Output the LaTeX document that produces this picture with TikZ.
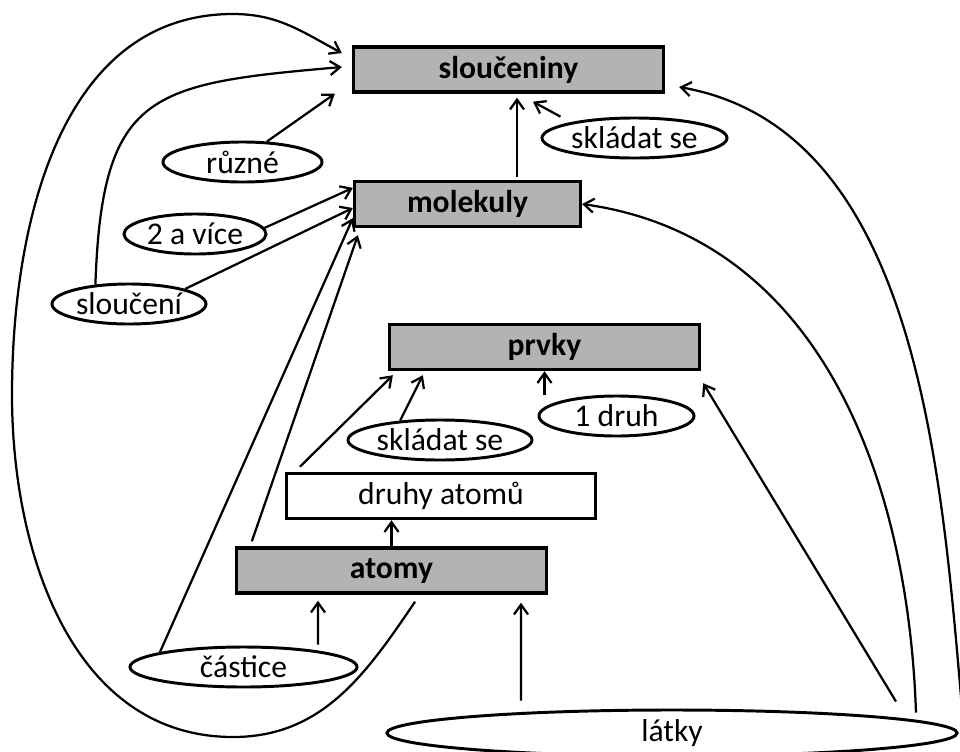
\documentclass[tikz,border=0pt]{standalone}
\usepackage{fontspec}
\setmainfont{Carlito}
\usetikzlibrary{shapes.geometric,arrows.meta,calc}
\definecolor{boxc}{HTML}{B3B3B3}
\newcommand{\velke}{\fontsize{22.5}{27}\selectfont}
\tikzset{
  pojem/.style={draw,line width=2.3pt,fill=boxc,minimum height=1.13cm,inner sep=0pt,font=\velke\bfseries},
  vazba/.style={draw,line width=2.1pt,ellipse,fill=white,minimum height=1cm,inner sep=0pt,font=\velke},
}

\begin{document}
\begin{tikzpicture}[x=0.025cm,y=0.025cm,>={Straight Barb[length=7pt,width=10pt]},line width=1.6pt]
  \useasboundingbox (0,0) rectangle (960,-751);
  \foreach \n/\x/\y/\w/\t in {slouceniny/508.5/-69.5/7.75/sloučeniny, molekuly/467.5/-204/5.65/molekuly, prvky/544.5/-347/7.75/prvky, atomy/391.5/-570.5/7.75/atomy}
    \node[pojem,minimum width=\w cm] (\n) at (\x,\y) {\t};
  \node[pojem,fill=white,font=\velke,minimum width=7.725cm] (druhy) at (441,-496) {druhy atomů};
  \foreach \n/\x/\y/\w/\t in {ruzne/242.5/-162/3.975/různé, dvaavice/195/-234/3.55/2 a více, slouceni/129/-304/3.85/sloučení, skladat/634.5/-138/4.625/skládat se, skladatb/440/-440/4.6/skládat se, jedendruh/616.5/-416/3.875/1 druh, castice/243.5/-667/5.675/částice}
    \node[vazba,minimum width=\w cm] (\n) at (\x,\y) {\t};
  \node[vazba,minimum width=14.25cm,minimum height=1.15cm] (latky) at (672,-733) {látky};
  \coordinate (dno) at (233,-737);
  \coordinate (vlevo) at (12,-395);
  \coordinate (nahore) at (233,-14);
  \draw[->] ($(atomy.south)+(23.5,-7)$) to[out=-124,in=0] (dno) to[out=180,in=-90] (vlevo) to[out=90,in=180] (nahore) to[out=0,in=152] ($(slouceniny.west)+(-10,16.5)$);
  \draw[->] (slouceni.150) to[out=88,in=185,looseness=1.5] ($(slouceniny.west)+(-10,2.5)$);
  \draw[->] (slouceni.15) -- (molekuly.182);
  \draw[->] (dvaavice.5) -- (molekuly.172);
  \draw[->] (ruzne.40) -- ($(slouceniny.south west)+(-17,0)$);
  \draw[->] (castice.170) -- (molekuly.187);
  \draw[->] ($(atomy.north west)+(17,5)$) -- ($(molekuly.south west)+(5,-7)$);
  \draw[->] ($(molekuly.north)+(49.5,3)$) -- ($(slouceniny.south)+(8.5,-4)$);
  \draw[->] ($(skladat.165)+(-13,5)$) -- ($(slouceniny.south)+(24.5,-8)$);
  \draw[->] ($(druhy.north west)+(15,5)$) -- ($(prvky.south west)+(5,-4)$);
  \draw[->] (skladatb.154) -- ($(prvky.south west)+(35,-4)$);
  \draw[->] (atomy.north) -- (atomy.north |- druhy.south);
  \draw[->] ($(castice.north)+(74.5,1)$) -- ($(atomy.south)+(-73.5,-6)$);
  \draw[->] ($(latky.north)+(-151,8)$) -- ($(atomy.south)+(129.5,-8)$);
  \draw[->] (prvky.south |- jedendruh.north) -- (prvky.south);
  \draw[->] ($(latky.north)+(224,7)$) -- ($(prvky.south east)+(2,-12)$);
  \draw[->] ($(latky.north)+(244,-4)$) to[out=92,in=-8] (molekuly.east);
  \draw[->] ($(latky.east)+(5,7)$) to[out=95,in=-10,looseness=0.9] ($(slouceniny.east)+(14,-17.5)$);
\end{tikzpicture}
\end{document}
